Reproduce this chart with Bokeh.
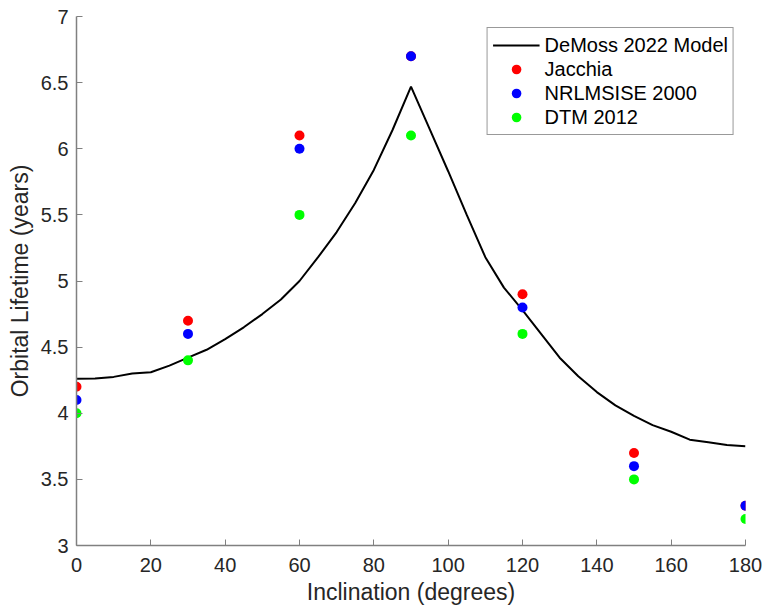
from bokeh.plotting import figure
from bokeh.models import Range1d, FixedTicker, Legend, LegendItem
from bokeh.embed import file_html
from bokeh.resources import INLINE

# Model curve
model_x = [0, 5, 10, 15, 20, 25, 30, 35, 40, 45, 50, 55, 60, 65, 70, 75, 80, 85, 90,
           95, 100, 105, 110, 115, 120, 125, 130, 135, 140, 145, 150, 155, 160, 165, 170, 175, 180]
model_y = [4.26, 4.262, 4.275, 4.30, 4.31, 4.36, 4.42, 4.48, 4.56, 4.65, 4.75, 4.86, 5.0,
           5.18, 5.37, 5.59, 5.84, 6.14, 6.47, 6.15, 5.83, 5.5, 5.18, 4.95, 4.78, 4.6, 4.42,
           4.28, 4.16, 4.06, 3.98, 3.91, 3.86, 3.80, 3.78, 3.76, 3.75]

incl = [0, 30, 60, 90, 120, 150, 180]
jacchia = [4.2, 4.7, 6.1, 6.7, 4.9, 3.7, 3.3]
nrlmsise = [4.1, 4.6, 6.0, 6.7, 4.8, 3.6, 3.3]
dtm = [4.0, 4.4, 5.5, 6.1, 4.6, 3.5, 3.2]

x_ticks = [0, 20, 40, 60, 80, 100, 120, 140, 160, 180]
y_ticks = [3, 3.5, 4, 4.5, 5, 5.5, 6, 6.5, 7]
y_tick_labels = ["3", "3.5", "4", "4.5", "5", "5.5", "6", "6.5", "7"]

FONT = "Liberation Sans"
TXT = "#262626"
AX = "#808080"

p = figure(width=764, height=607, output_backend="svg", toolbar_location=None,
           x_range=Range1d(0, 180), y_range=Range1d(3, 7),
           min_border_left=76, min_border_right=19, min_border_top=16, min_border_bottom=62)
p.outline_line_color = None
p.grid.visible = False
p.background_fill_color = "white"
p.border_fill_color = "white"

for ax in (p.xaxis[0], p.yaxis[0]):
    ax.axis_line_color = AX
    ax.axis_line_width = 1.5
    ax.major_tick_line_color = AX
    ax.major_tick_in = 6
    ax.major_tick_out = 0
    ax.minor_tick_line_color = None
    ax.major_label_text_font = FONT
    ax.major_label_text_font_size = "20px"
    ax.major_label_text_color = TXT
    ax.axis_label_text_font = FONT
    ax.axis_label_text_font_size = "23px"
    ax.axis_label_text_font_style = "normal"
    ax.axis_label_text_color = TXT

p.xaxis.ticker = FixedTicker(ticks=x_ticks)
p.yaxis.ticker = FixedTicker(ticks=y_ticks)
p.yaxis.major_label_overrides = {t: l for t, l in zip(y_ticks, y_tick_labels)}
p.xaxis.axis_label = "Inclination (degrees)"
p.yaxis.axis_label = "Orbital Lifetime (years)"
p.xaxis.major_label_standoff = 12
p.yaxis.major_label_standoff = 8
p.xaxis.axis_label_standoff = 4
p.yaxis.axis_label_standoff = 5

r_model = p.line(model_x, model_y, line_color="black", line_width=2)
r_j = p.scatter(incl, jacchia, size=10, fill_color="#ff0000", line_color=None)
r_n = p.scatter(incl, nrlmsise, size=10, fill_color="#0000ff", line_color=None)
r_d = p.scatter(incl, dtm, size=10, fill_color="#00ff00", line_color=None)

legend = Legend(items=[
    LegendItem(label="DeMoss 2022 Model", renderers=[r_model]),
    LegendItem(label="Jacchia", renderers=[r_j]),
    LegendItem(label="NRLMSISE 2000", renderers=[r_n]),
    LegendItem(label="DTM 2012", renderers=[r_d]),
], location="top_right")
legend.label_text_font = FONT
legend.label_text_font_size = "20px"
legend.label_text_color = "black"
legend.border_line_color = "#333333"
legend.border_line_width = 1
legend.glyph_width = 47
legend.glyph_height = 24
legend.spacing = 0
legend.padding = 5
legend.margin = 11
legend.label_standoff = 5
legend.label_height = 24
p.add_layout(legend)

open("out.html", "w").write(file_html(p, INLINE))
